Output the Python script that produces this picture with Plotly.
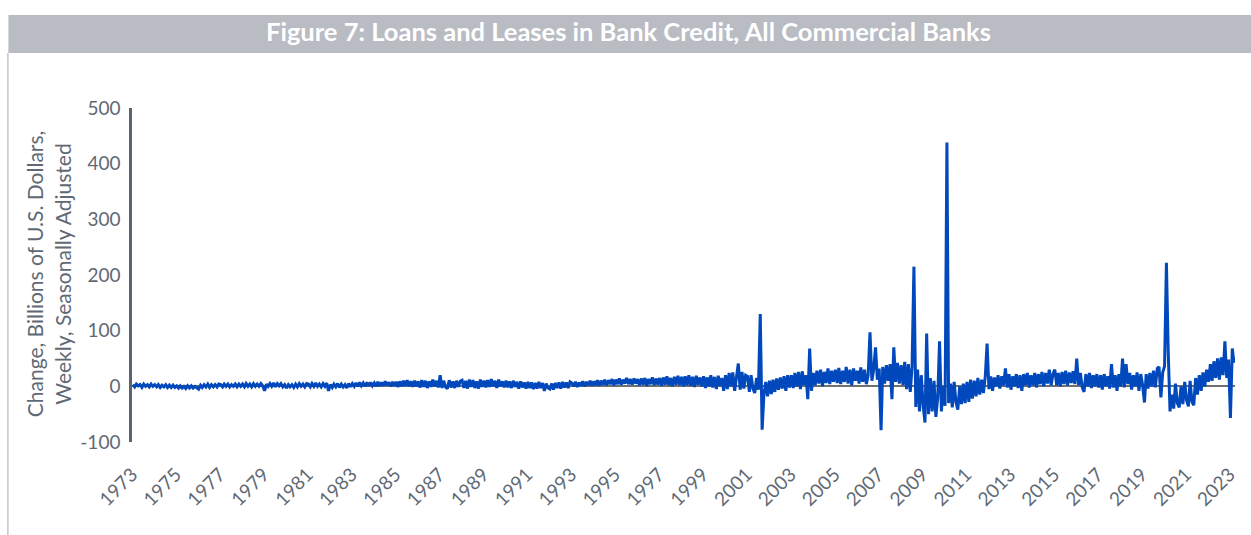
import pandas as pd
import plotly.graph_objects as go

# ---------------- data (monthly readings of the weekly change, $bn) ----------------
vals_1973_1982 = [
    3, -1, 4, 1, 3, -2, 4, 0, 3, -1, 4, 0,
    3, -1, 3, -2, 2, -1, 3, -2, 2, -2, 2, -2,
    1, -3, 1, -3, 0, -4, 1, -3, 1, -3, 0, -2,
    -5, 2, -2, 3, -1, 4, -2, 3, -1, 3, -1, 4,
    3, -1, 4, 0, 4, -1, 3, 0, 4, -1, 4, 0,
    4, -1, 5, 0, 4, -1, 5, 0, 4, 0, 5, 1,
    -8, 4, 0, 5, 0, 6, -1, 5, 1, 5, -1, 3,
    -3, 3, -1, 3, -2, 4, -1, 5, 0, 4, -1, 5,
    4, -1, 5, 0, 6, 0, 4, -1, 5, 0, 6, -8,
    3, -2, 4, -1, 5, -2, 4, -1, 3, -3, 5, -1,
]
vals_1983_1992 = [
    5, 0, 6, 0, 7, 1, 6, 0, 7, 1, 7, 1,
    6, 0, 8, 1, 7, 1, 9, 2, 7, 0, 8, 1,
    8, -1, 9, 0, 10, 1, 11, 0, 9, -1, 10, 0,
    9, -2, 11, -1, 10, -3, 9, -1, 12, 0, 10, -2,
    20, -3, 10, -1, -4, 11, -2, 9, -3, 10, -1, 9,
    11, -3, 10, -4, 12, -1, 11, -3, 9, -4, 12, -1,
    10, -2, 11, -1, 13, 0, 10, -3, 12, 0, 9, -2,
    10, -2, 9, -3, 10, -1, 8, -4, 9, -2, 7, -4,
    8, -3, 7, -5, 6, -4, 8, -3, 6, -8, 5, -3,
    -5, 5, -6, 6, -3, 7, -4, 8, -2, 7, -3, 8,
]
vals_1993_2002 = [
    6, 0, 8, -1, 7, 1, 9, 0, 8, 2, 10, 1,
    9, 2, 11, 1, 10, 3, 12, 2, 11, 4, 13, 2,
    12, 4, 14, 3, 12, 5, 15, 4, 13, 3, 14, 5,
    13, 2, 14, 3, 15, 1, 13, 4, 16, 2, 14, 3,
    15, 1, 16, 3, 18, 2, 15, 0, 17, 3, 19, 2,
    17, 0, 18, 2, 20, 1, 17, -1, 19, 3, 16, 0,
    18, -3, 16, 0, 20, -2, 17, -5, 19, 1, 15, -8,
    20, -5, 24, 0, 25, -8, 22, 41, -6, 26, -4, 20,
    18, -10, 20, -4, -12, 15, -6, 130, -78, -15, 8, -18,
    10, -14, 12, -10, 14, -6, 16, -4, 18, -8, 20, -2,
]
vals_2003_2012 = [
    20, -3, 24, 0, 26, -5, 27, 2, 20, -23, 68, -8,
    24, 2, 28, 5, 30, 0, 26, 6, 32, 4, 28, 8,
    30, 6, 33, 4, 28, 8, 35, 5, 30, 2, 32, 10,
    28, 5, 34, 8, 30, 4, 20, 97, 10, 30, 70, 12,
    32, -79, 35, 5, 38, 10, 40, -23, 70, 8, 42, 5,
    38, 2, 44, -5, 40, -10, 35, 215, -37, 30, -45, 20,
    -35, -65, 95, -50, 15, -45, 10, -55, -20, 81, -45, 0,
    -35, 438, -30, 5, -38, 8, -28, -42, 0, -32, 5, -30,
    8, -28, 12, -22, 10, -18, 15, -15, 12, -12, 18, 77,
    -5, 18, -8, 16, 0, 20, -4, 18, 2, 32, -2, 22,
]
vals_2013_2023 = [
    -6, 18, 0, 22, -3, 20, -8, 22, 2, 24, -2, 20,
    2, 24, -2, 22, 4, 26, 0, 24, 5, 30, 2, 22,
    30, 2, 24, 0, 26, 4, 28, 2, 25, 6, 27, 4,
    50, 2, 24, -2, -10, 22, 0, 24, -3, 20, 0, 22,
    -2, 20, -6, 22, 0, 18, -4, 40, -2, 20, -8, 22,
    0, 50, -2, 40, 4, 24, -6, 20, 0, 25, -8, 22,
    2, -29, 22, -4, 24, 0, 28, -2, 32, 35, -20, 25,
    36, 222, 65, -45, -15, -40, 5, -30, -38, 0, -32, 8,
    -25, -36, 10, -28, -34, 15, -15, 20, -8, 25, 0, 30,
    8, 40, 10, 45, 15, 50, 12, 52, 20, 81, 15, 48,
    -57, 68, 42,
]
tick_years = list(range(1973, 2024, 2))
y_ticks = [-100, 0, 100, 200, 300, 400, 500]
y_tick_labels = ["-100", "0", "100", "200", "300", "400", "500"]

values = vals_1973_1982 + vals_1983_1992 + vals_1993_2002 + vals_2003_2012 + vals_2013_2023
dates = pd.date_range("1973-01-01", periods=len(values), freq="MS") + pd.Timedelta(days=14)

# ---------------- layout geometry (pixels) ----------------
W, H = 1251, 535
L, R, T, B = 132, 1238.5, 108, 442
pw, ph = R - L, B - T

def px(x):
    return (x - L) / pw

def py(y):
    return (B - y) / ph

GRAY_TXT = "#5f6974"
FONT = "Lato"

fig = go.Figure()
fig.add_trace(go.Scatter(
    x=dates, y=values, mode="lines",
    line=dict(color="#0048BB", width=3),
    hoverinfo="skip", showlegend=False,
))

fig.update_layout(
    width=W, height=H,
    margin=dict(l=L, r=W - R, t=T, b=H - B),
    paper_bgcolor="white", plot_bgcolor="white",
    font=dict(family=FONT, color=GRAY_TXT),
    showlegend=False,
)
fig.update_xaxes(
    type="date", range=["1973-01-01", "2023-04-01"],
    tickvals=[f"{y}-01-01" for y in tick_years],
    ticktext=[str(y) for y in tick_years],
    tickangle=-45, tickfont=dict(size=19, color=GRAY_TXT, family=FONT),
    showgrid=False, showline=False, zeroline=False,
    ticks="outside", ticklen=13, tickcolor="rgba(0,0,0,0)",
)
fig.update_yaxes(
    range=[-100, 500], tickvals=y_ticks, ticktext=y_tick_labels,
    tickfont=dict(size=19, color=GRAY_TXT, family=FONT),
    showgrid=False, showline=True, linecolor="#5b6470", linewidth=2.5,
    zeroline=True, zerolinecolor="#707070", zerolinewidth=2.4,
    ticks="outside", ticklen=5, tickcolor="rgba(0,0,0,0)",
)

# y-axis title
fig.add_annotation(text="Change, Billions of U.S. Dollars,<br>Weekly, Seasonally Adjusted",
                   xref="paper", yref="paper", x=px(48), y=py(274),
                   xanchor="center", yanchor="middle", showarrow=False, textangle=-90,
                   font=dict(size=21, color=GRAY_TXT, family=FONT))

# banner and left border
fig.add_shape(type="rect", xref="paper", yref="paper",
              x0=px(8), x1=px(1260), y0=py(53), y1=py(15),
              fillcolor="#b9bcc3", line=dict(width=0), layer="below")
fig.add_shape(type="line", xref="paper", yref="paper",
              x0=px(7.5), x1=px(7.5), y0=py(53), y1=py(540),
              line=dict(color="#c4c6cb", width=1.5), layer="below")
fig.add_annotation(text="<b>Figure 7: Loans and Leases in Bank Credit, All Commercial Banks</b>",
                   xref="paper", yref="paper", x=px(630), y=py(31),
                   xanchor="center", yanchor="middle", showarrow=False,
                   font=dict(size=25.5, color="white", family=FONT))

fig.write_html("out.html", config={"displayModeBar": False},
               post_script="document.body.style.margin='0px';")
